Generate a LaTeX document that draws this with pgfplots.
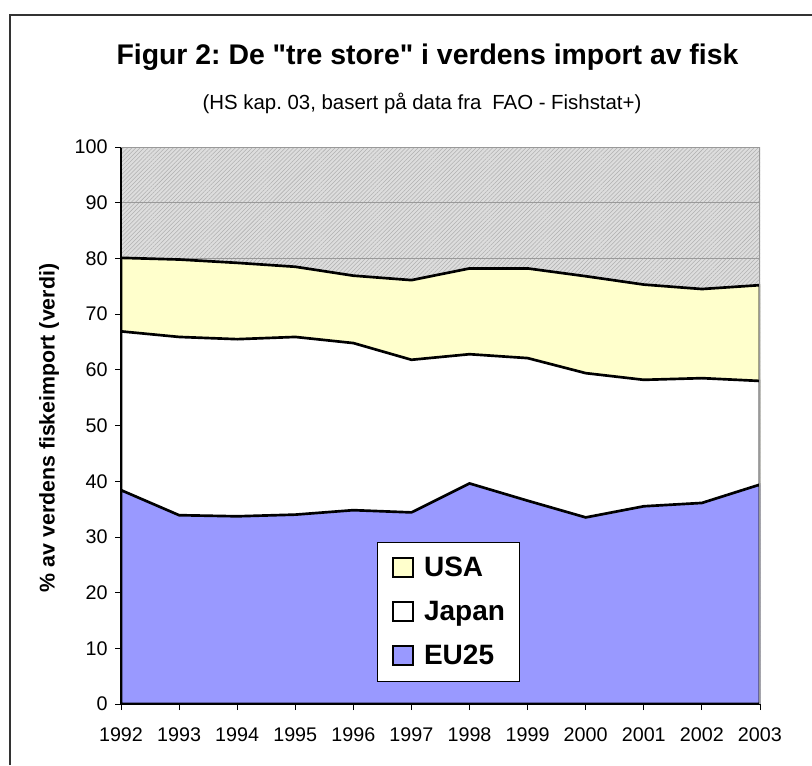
\documentclass[border=0pt]{standalone}
\usepackage{fontspec}
\setmainfont{Liberation Sans}[Ligatures=TeXOff]
\usepackage{pgfplots}
\pgfplotsset{compat=1.18}
\usetikzlibrary{patterns.meta}
\definecolor{euc}{HTML}{9999FF}
\definecolor{usac}{HTML}{FFFFCC}
\definecolor{hatchbg}{HTML}{DDDDDD}
\definecolor{hatchln}{HTML}{B0B0B0}
\definecolor{gridc}{HTML}{999999}
\frenchspacing
\begin{document}
\begin{tikzpicture}[x=0.75pt,y=0.75pt]
\useasboundingbox (0,0) rectangle (812,765);
\begin{axis}[
  at={(90.75pt,45.75pt)}, anchor=south west,
  scale only axis, width=479.25pt, height=417.75pt,
  xmin=1992, xmax=2003, ymin=0, ymax=100,
  xtick={1992,...,2003}, ytick={0,10,...,100},
  axis lines=left, axis line style={-, black, line width=0.8pt},
  tick align=outside, major tick length=4.5pt,
  tick style={black, line width=0.6pt},
  ymajorgrids, grid style={gridc, line width=0.6pt},
  /pgf/number format/assume math mode=true,
  /pgf/number format/set thousands separator={},
  tick label style={font=\fontsize{14.8}{17}\selectfont},
  xticklabel style={yshift=-9.5pt},
  yticklabel style={xshift=-2pt},
  axis background/.style={fill=hatchbg, postaction={pattern={Lines[angle=45,distance=2.2pt,line width=0.4pt]}, pattern color=hatchln}},
  legend cell align=left,
  legend style={at={(0.4006,0.2908)}, anchor=north west, draw=black, line width=0.6pt, fill=white,
    font=\bfseries\fontsize{21}{24}\selectfont, row sep=13pt, inner xsep=9pt, inner ysep=9pt},
  legend image code/.code={\draw[#1, draw=black, line width=1.5pt] (0pt,-7pt) rectangle (14.5pt,7.5pt);
    \path (-2pt,0pt) (20pt,0pt);},
]
\addplot[fill=usac, draw=black, line width=2pt] coordinates {
(1992,80.1) (1993,79.8) (1994,79.2) (1995,78.5) (1996,76.9) (1997,76.1)
(1998,78.2) (1999,78.2) (2000,76.8) (2001,75.3) (2002,74.5) (2003,75.2)} \closedcycle;
\addlegendentry{USA}
\addplot[fill=white, draw=black, line width=2pt] coordinates {
(1992,66.9) (1993,65.9) (1994,65.5) (1995,65.9) (1996,64.8) (1997,61.8)
(1998,62.8) (1999,62.1) (2000,59.4) (2001,58.2) (2002,58.5) (2003,58.0)} \closedcycle;
\addlegendentry{Japan}
\addplot[fill=euc, draw=black, line width=2pt] coordinates {
(1992,38.4) (1993,33.9) (1994,33.7) (1995,34.0) (1996,34.8) (1997,34.4)
(1998,39.6) (1999,36.5) (2000,33.5) (2001,35.5) (2002,36.1) (2003,39.4)} \closedcycle;
\addlegendentry{EU25}
\draw[gridc, line width=0.8pt] (rel axis cs:0,1) -- (rel axis cs:1,1) -- (rel axis cs:1,0);
\end{axis}
\draw[line width=0.8pt, black!80] (10,0) -- (10,750) -- (812,750);
\node[font=\bfseries\fontsize{21.3}{25}\selectfont] at (427.5,708) {Figur 2: De "tre store" i verdens import av fisk};
\node[font=\fontsize{15.3}{18}\selectfont] at (422,662) {(HS kap. 03, basert på data fra\hspace{0.25em} FAO - Fishstat+)};
\node[rotate=90, font=\bfseries\fontsize{16}{19}\selectfont] at (49,337) {\% av verdens fiskeimport (verdi)};
\end{tikzpicture}
\end{document}
